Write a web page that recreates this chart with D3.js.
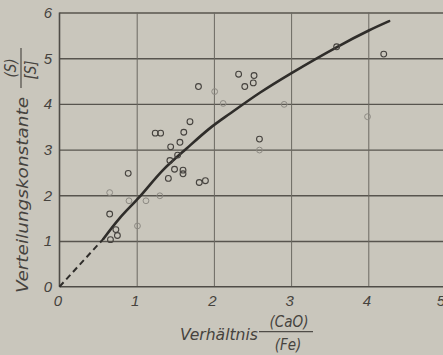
<!DOCTYPE html>
<html>
<head>
<meta charset="utf-8">
<script src="https://cdn.jsdelivr.net/npm/d3@7.9.0/dist/d3.min.js"></script>
<style>
  html, body { margin: 0; padding: 0; background: #c9c6bc; }
  svg { display: block; }
  text { font-family: "Liberation Sans Narrow", "DejaVu Sans Condensed", sans-serif; font-style: italic; fill: #46433e; }
</style>
</head>
<body>
<svg id="chart" width="443" height="355"></svg>
<script>
// measured points (ratio CaO/Fe, distribution constant)
const clearPoints = [
  [0.89, 2.48], [0.65, 1.59], [0.73, 1.25], [0.75, 1.12], [0.66, 1.03],
  [1.80, 4.38], [1.69, 3.61], [1.24, 3.36], [1.31, 3.36], [1.61, 3.38],
  [1.56, 3.16], [1.44, 3.06], [1.53, 2.88], [1.43, 2.76], [1.49, 2.57],
  [1.60, 2.55], [1.60, 2.47], [1.41, 2.37], [1.81, 2.28], [1.89, 2.32],
  [2.32, 4.65], [2.52, 4.62], [2.51, 4.46], [2.40, 4.38], [2.59, 3.23],
  [3.59, 5.25], [4.20, 5.09]
];
// points printed faintly (sitting on grid lines)
const faintPoints = [
  [0.65, 2.06], [0.90, 1.88], [1.12, 1.88], [1.01, 1.33], [1.30, 1.99],
  [2.01, 4.27], [2.12, 4.01], [2.91, 3.99], [2.59, 2.99], [3.99, 3.72]
];
// fitted curve, dashed part near the origin then solid
const dashedCurve = [[0, 0], [0.57, 1.05]];
const solidCurve = [
  [0.57, 1.05], [0.78, 1.50], [1.04, 1.97], [1.34, 2.55], [1.65, 3.03],
  [1.95, 3.47], [2.21, 3.79], [2.60, 4.25], [3.00, 4.67], [3.60, 5.25],
  [4.00, 5.60], [4.27, 5.81]
];
const xTicks = [0, 1, 2, 3, 4, 5];
const yTicks = [0, 1, 2, 3, 4, 5, 6];

const svg = d3.select('#chart');
const width = 443;

const x = d3.scaleLinear().domain([0, 5]).range([59.5, 445.5]);
const y = d3.scaleLinear().domain([0, 6]).range([286.7, 12.5]);

// horizontal grid lines
svg.append('g')
  .attr('transform', `translate(${x(0)},0)`)
  .call(d3.axisRight(y).tickValues(yTicks.slice(1)).tickSize(width - x(0)).tickFormat(''))
  .call((g) => g.select('.domain').remove())
  .call((g) => g.selectAll('line').attr('stroke', '#57544e').attr('stroke-width', 1.4));

// vertical grid lines
svg.append('g')
  .attr('transform', `translate(0,${y(0)})`)
  .call(d3.axisTop(x).tickValues([1, 2, 3, 4]).tickSize(y(0) - y(6)).tickFormat(''))
  .call((g) => g.select('.domain').remove())
  .call((g) => g.selectAll('line').attr('stroke', '#6c6962').attr('stroke-width', 1));

// axis lines
svg.append('line')
  .attr('x1', x(0)).attr('x2', x(0)).attr('y1', y(6)).attr('y2', y(0))
  .attr('stroke', '#4f4c47').attr('stroke-width', 1.6);
svg.append('line')
  .attr('x1', x(0)).attr('x2', width).attr('y1', y(0)).attr('y2', y(0))
  .attr('stroke', '#4f4c47').attr('stroke-width', 1.6);

// tick labels
svg.append('g')
  .attr('transform', `translate(${x(0)},0)`)
  .call(d3.axisLeft(y).tickValues(yTicks).tickSize(0).tickFormat(d3.format('d')))
  .call((g) => g.select('.domain').remove())
  .call((g) => g.selectAll('text')
    .attr('x', -11.5)
    .attr('text-anchor', 'middle')
    .style('font-size', '15px')
    .style('font-family', '"Liberation Sans Narrow", sans-serif')
    .attr('fill', '#5a5751'));

svg.append('g')
  .attr('transform', `translate(0,${y(0)})`)
  .call(d3.axisBottom(x).tickValues(xTicks).tickSize(0).tickFormat(d3.format('d')))
  .call((g) => g.select('.domain').remove())
  .call((g) => g.selectAll('text')
    .attr('x', (d) => (d === 5 ? -5 : -2))
    .attr('y', 9)
    .attr('text-anchor', 'middle')
    .style('font-size', '15px')
    .style('font-family', '"Liberation Sans Narrow", sans-serif')
    .attr('fill', '#5a5751'));

// curve
const line = d3.line().x((d) => x(d[0])).y((d) => y(d[1]));
svg.append('path')
  .attr('d', line(dashedCurve))
  .attr('fill', 'none')
  .attr('stroke', '#2f2d2a')
  .attr('stroke-width', 2)
  .attr('stroke-dasharray', '6,4');
svg.append('path')
  .attr('d', line.curve(d3.curveCatmullRom)(solidCurve))
  .attr('fill', 'none')
  .attr('stroke', '#2f2d2a')
  .attr('stroke-width', 2.6)
  .attr('stroke-linecap', 'round');

// points
svg.append('g')
  .selectAll('circle')
  .data(faintPoints)
  .join('circle')
  .attr('cx', (d) => x(d[0]))
  .attr('cy', (d) => y(d[1]))
  .attr('r', 2.9)
  .attr('fill', 'none')
  .attr('stroke', '#8d8a83')
  .attr('stroke-width', 1);

svg.append('g')
  .selectAll('circle')
  .data(clearPoints)
  .join('circle')
  .attr('cx', (d) => x(d[0]))
  .attr('cy', (d) => y(d[1]))
  .attr('r', 2.9)
  .attr('fill', 'none')
  .attr('stroke', '#45423e')
  .attr('stroke-width', 1.1);

// x axis title with fraction
const xt = svg.append('g');
xt.append('text')
  .attr('x', 180).attr('y', 340)
  .attr('textLength', 78).attr('lengthAdjust', 'spacingAndGlyphs')
  .style('font-size', '16px')
  .text('Verhältnis');
xt.append('text')
  .attr('x', 289).attr('y', 327)
  .attr('text-anchor', 'middle')
  .style('font-size', '15px')
  .text('(CaO)');
xt.append('line')
  .attr('x1', 259).attr('x2', 313).attr('y1', 331.7).attr('y2', 331.7)
  .attr('stroke', '#4f4c47').attr('stroke-width', 1.2);
xt.append('text')
  .attr('x', 288).attr('y', 350)
  .attr('text-anchor', 'middle')
  .style('font-size', '15px')
  .text('(Fe)');

// y axis title with fraction (rotated)
const yt = svg.append('g');
yt.append('text')
  .attr('transform', 'translate(28,293) rotate(-90)')
  .attr('textLength', 196).attr('lengthAdjust', 'spacingAndGlyphs')
  .style('font-size', '16px')
  .text('Verteilungskonstante');
yt.append('text')
  .attr('transform', 'translate(16,68) rotate(-90)')
  .attr('text-anchor', 'middle')
  .style('font-size', '15px')
  .text('(S)');
yt.append('line')
  .attr('x1', 21).attr('x2', 21).attr('y1', 48).attr('y2', 88)
  .attr('stroke', '#4f4c47').attr('stroke-width', 1.2);
yt.append('text')
  .attr('transform', 'translate(36,70) rotate(-90)')
  .attr('text-anchor', 'middle')
  .style('font-size', '15px')
  .text('[S]');
</script>
</body>
</html>
